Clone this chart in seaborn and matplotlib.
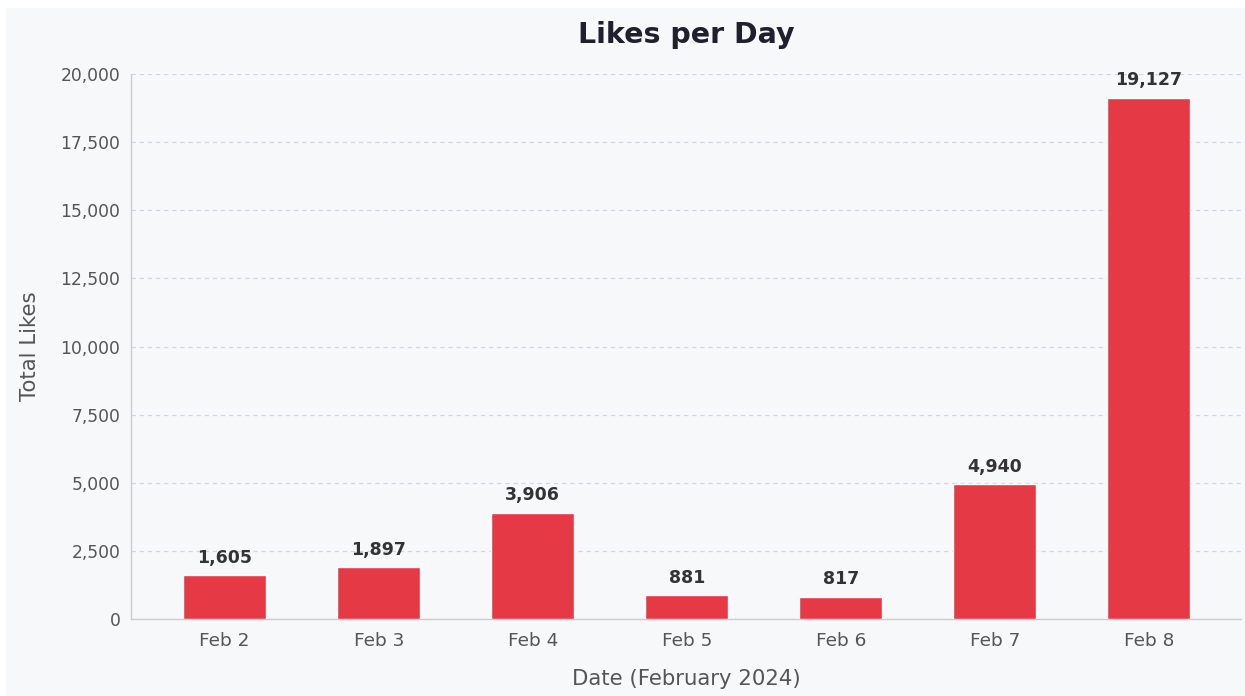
import matplotlib
matplotlib.use("Agg")
import matplotlib.pyplot as plt
import seaborn as sns
import pandas as pd
from matplotlib.patches import Rectangle
from matplotlib.ticker import FuncFormatter

# Daily likes, February 2024
dates = ["Feb 2", "Feb 3", "Feb 4", "Feb 5", "Feb 6", "Feb 7", "Feb 8"]
likes = [1605, 1897, 3906, 881, 817, 4940, 19127]
y_ticks = [0, 2500, 5000, 7500, 10000, 12500, 15000, 17500, 20000]

BG = "#f7f8fa"
BAR = "#e63946"

sns.set_theme(style="white")
plt.rcParams["font.family"] = ["DejaVu Sans"]

df = pd.DataFrame({"date": dates, "likes": likes})

fig = plt.figure(figsize=(12.45, 6.96), dpi=100, facecolor="white")
# panel background with a thin white margin on the top and left
fig.patches.append(Rectangle((6 / 1245, 0), 1, 1 - 8 / 696,
                             transform=fig.transFigure, facecolor=BG,
                             edgecolor="none", zorder=-10))

ax = fig.add_axes([0.105, 0.1106, 0.892, 0.7831])
ax.set_facecolor(BG)

sns.barplot(data=df, x="date", y="likes", color=BAR, width=0.54,
            saturation=1, ax=ax, zorder=3)

for p, v in zip(ax.patches, likes):
    ax.annotate(f"{v:,}", (p.get_x() + p.get_width() / 2, v),
                xytext=(0, 6), textcoords="offset points",
                ha="center", va="bottom", fontsize=12.5, fontweight="bold",
                color="#333333", zorder=4, annotation_clip=False)

ax.set_xlim(-0.61, 6.6)
ax.set_ylim(0, 20000)
ax.set_yticks(y_ticks)
ax.yaxis.set_major_formatter(FuncFormatter(lambda v, _: f"{int(v):,}"))

ax.grid(axis="y", linestyle=(0, (3.5, 3)), color="#d3d6db", linewidth=0.9, zorder=0)
ax.grid(axis="x", visible=False)

for side in ("top", "right"):
    ax.spines[side].set_visible(False)
for side in ("left", "bottom"):
    ax.spines[side].set_color("#cccccc")
    ax.spines[side].set_linewidth(1.0)

ax.tick_params(axis="both", which="major", length=4, width=1,
               color="#555555", labelcolor="#555555")
ax.tick_params(axis="y", labelsize=12.3)
ax.tick_params(axis="x", labelsize=13.3, pad=5)

ax.set_title("Likes per Day", fontsize=20.5, fontweight="bold",
             color="#1f1f2e", pad=22)
ax.set_xlabel("Date (February 2024)", fontsize=15.3, color="#555555", labelpad=14)
ax.set_ylabel("Total Likes", fontsize=15.3, color="#555555", labelpad=15)

fig.savefig("out.png", dpi=100, facecolor="white")
